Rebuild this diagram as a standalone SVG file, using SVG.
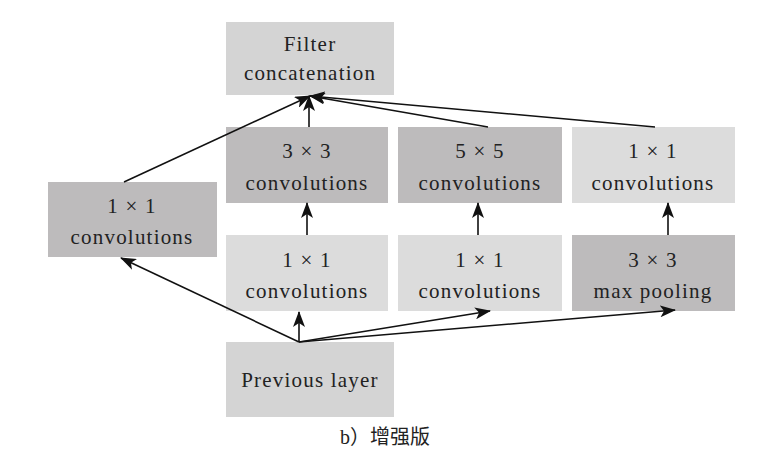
<svg xmlns="http://www.w3.org/2000/svg" width="766" height="461" viewBox="0 0 766 461">
<style>
.t{font-family:"Liberation Serif","Times New Roman",serif;font-size:21px;fill:#222;text-anchor:middle;letter-spacing:1.2px}
.dark{fill:#bdbbbc}
.light{fill:#dcdcdc}
.mid{fill:#d4d4d4}
.c{stroke:#111;stroke-width:1.6;fill:none;marker-end:url(#ah)}
.cap{font-family:"Liberation Serif","Noto Sans CJK SC",serif;font-size:20px;fill:#222}
</style>
<defs>
<marker id="ah" markerWidth="16" markerHeight="12" refX="15" refY="6" orient="auto" markerUnits="userSpaceOnUse">
<path d="M0,0 L16,6 L0,12 L4,6 z" fill="#111"/>
</marker>
</defs>
<rect width="766" height="461" fill="#fff"/>
<g id="filter-concat"><rect class="mid" x="226" y="22" width="168" height="73"/><text class="t" x="310" y="51">Filter</text><text class="t" x="310" y="80">concatenation</text></g>
<g id="left-1x1"><rect class="dark" x="48" y="182" width="169" height="75"/><text class="t" x="132" y="213">1 × 1</text><text class="t" x="132" y="244">convolutions</text></g>
<g id="conv3x3"><rect class="dark" x="226" y="127" width="162" height="76"/><text class="t" x="307" y="158">3 × 3</text><text class="t" x="307" y="190">convolutions</text></g>
<g id="conv5x5"><rect class="dark" x="398" y="127" width="164" height="76"/><text class="t" x="480" y="158">5 × 5</text><text class="t" x="480" y="190">convolutions</text></g>
<g id="pool-1x1"><rect class="light" x="572" y="127" width="163" height="76"/><text class="t" x="653" y="158">1 × 1</text><text class="t" x="653" y="190">convolutions</text></g>
<g id="reduce3"><rect class="light" x="226" y="235" width="162" height="76"/><text class="t" x="307" y="267">1 × 1</text><text class="t" x="307" y="298">convolutions</text></g>
<g id="reduce5"><rect class="light" x="398" y="235" width="164" height="76"/><text class="t" x="480" y="267">1 × 1</text><text class="t" x="480" y="298">convolutions</text></g>
<g id="maxpool"><rect class="dark" x="572" y="235" width="163" height="76"/><text class="t" x="653" y="267">3 × 3</text><text class="t" x="653" y="298">max pooling</text></g>
<g id="previous"><rect class="mid" x="226" y="342" width="168" height="75"/><text class="t" x="310" y="387">Previous layer</text></g>
<g id="connectors">
<path class="c" d="M124,182 L310,96"/>
<path class="c" d="M309,127 L309,96"/>
<path class="c" d="M488,127 L310,96"/>
<path class="c" d="M655,127 L310,96"/>
<path class="c" d="M307,235 L307,203"/>
<path class="c" d="M478,235 L478,203"/>
<path class="c" d="M668,235 L668,203"/>
<path class="c" d="M299,342 L299,312"/>
<path class="c" d="M299,342 L121,258"/>
<path class="c" d="M299,342 L490,311"/>
<path class="c" d="M299,342 L675,310"/>
</g>
<text class="cap" x="340" y="444">b）增强版</text>
</svg>
